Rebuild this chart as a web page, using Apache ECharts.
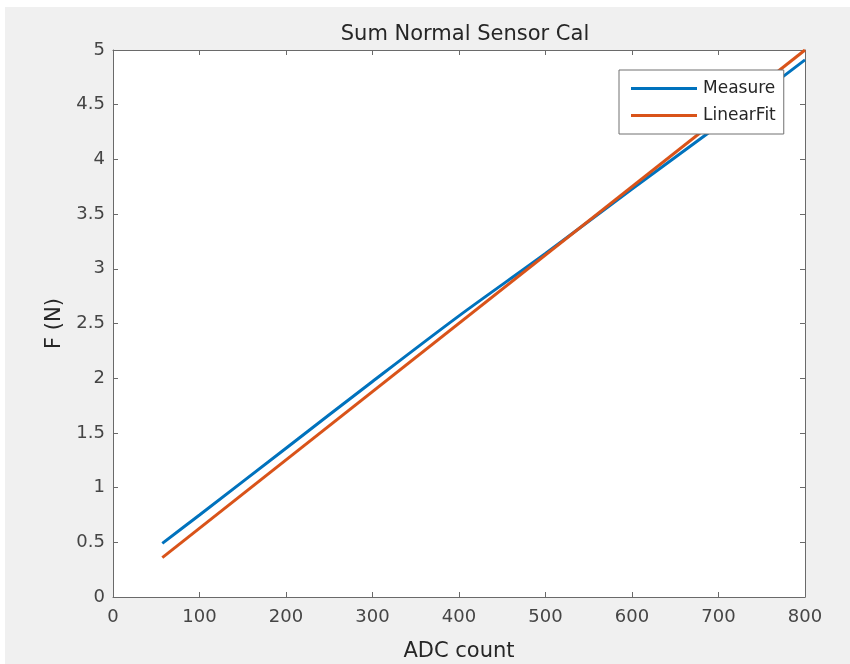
<!DOCTYPE html>
<html>
<head>
<meta charset="utf-8">
<script src="https://cdn.jsdelivr.net/npm/echarts@6/dist/echarts.min.js"></script>
<style>
html,body{margin:0;padding:0;background:#fff;}
#c{width:850px;height:664px;background:#f0f0f0;box-shadow:inset 5px 7px 0 #ffffff;}
</style>
</head>
<body>
<div id="c"></div>
<script>
var titleText = 'Sum Normal Sensor Cal';
var xName = 'ADC count';
var yName = 'F (N)';
var seriesNames = ['Measure', 'LinearFit'];
var xCounts = [57, 100, 200, 300, 400, 500, 600, 700, 800];
var measureF = [0.49, 0.75, 1.36, 1.97, 2.57, 3.14, 3.73, 4.31, 4.91];
var fitX = [57, 800];
var fitF = [0.36, 5.0];

var font = '"DejaVu Sans", Verdana, sans-serif';
var axisColor = '#6a6a6a';
var labelColor = '#454545';

function pairs(xs, ys){ return xs.map(function(x,i){ return [x, ys[i]]; }); }

var chart = echarts.init(document.getElementById('c'), null, {renderer:'canvas'});
var baseAxis = {
  axisLine:{show:true, onZero:false, lineStyle:{color:axisColor, width:1}},
  axisTick:{show:true, inside:true, length:5, lineStyle:{color:axisColor}},
  splitLine:{show:false}
};
chart.setOption({
  backgroundColor:'transparent',
  animation:false,
  textStyle:{fontFamily:font},
  title:{text:titleText, left:460, top:19, textAlign:'center',
    textStyle:{fontFamily:font, fontSize:21, fontWeight:'normal', color:'#262626'}},
  grid:{left:113, right:45, top:50, bottom:67, show:true, backgroundColor:'#ffffff', borderWidth:0,
    containLabel:false, outerBoundsMode:'none'},
  legend:{
    orient:'vertical', left:619, top:70,
    data:seriesNames,
    icon:'rect', itemWidth:66, itemHeight:3, itemGap:10,
    padding:[10,8,10,12],
    backgroundColor:'#ffffff', borderColor:'#707070', borderWidth:1, borderRadius:0,
    textStyle:{fontFamily:font, fontSize:17, color:'#262626', padding:[0,0,0,1]}
  },
  xAxis:[
    Object.assign({}, baseAxis, {type:'value', position:'bottom', min:0, max:800, interval:100,
      name:xName, nameLocation:'middle', nameGap:44,
      nameTextStyle:{fontFamily:font, fontSize:21, color:'#262626'},
      axisLabel:{margin:11, fontSize:18, color:labelColor, fontFamily:font}}),
    Object.assign({}, baseAxis, {type:'value', position:'top', min:0, max:800, interval:100,
      axisLabel:{show:false}})
  ],
  yAxis:[
    Object.assign({}, baseAxis, {type:'value', position:'left', min:0, max:5, interval:0.5,
      name:yName, nameLocation:'middle', nameGap:48, nameRotate:90,
      nameTextStyle:{fontFamily:font, fontSize:21, color:'#262626'},
      axisLabel:{margin:8, fontSize:18, color:labelColor, fontFamily:font}}),
    Object.assign({}, baseAxis, {type:'value', position:'right', min:0, max:5, interval:0.5,
      axisLabel:{show:false}})
  ],
  series:[
    {name:seriesNames[0], type:'line', data:pairs(xCounts, measureF), showSymbol:false,
      smooth:0.3, lineStyle:{width:3, color:'#0072BD'}, itemStyle:{color:'#0072BD'}},
    {name:seriesNames[1], type:'line', data:pairs(fitX, fitF), showSymbol:false,
      lineStyle:{width:3, color:'#D95319'}, itemStyle:{color:'#D95319'}}
  ]
});
</script>
</body>
</html>
